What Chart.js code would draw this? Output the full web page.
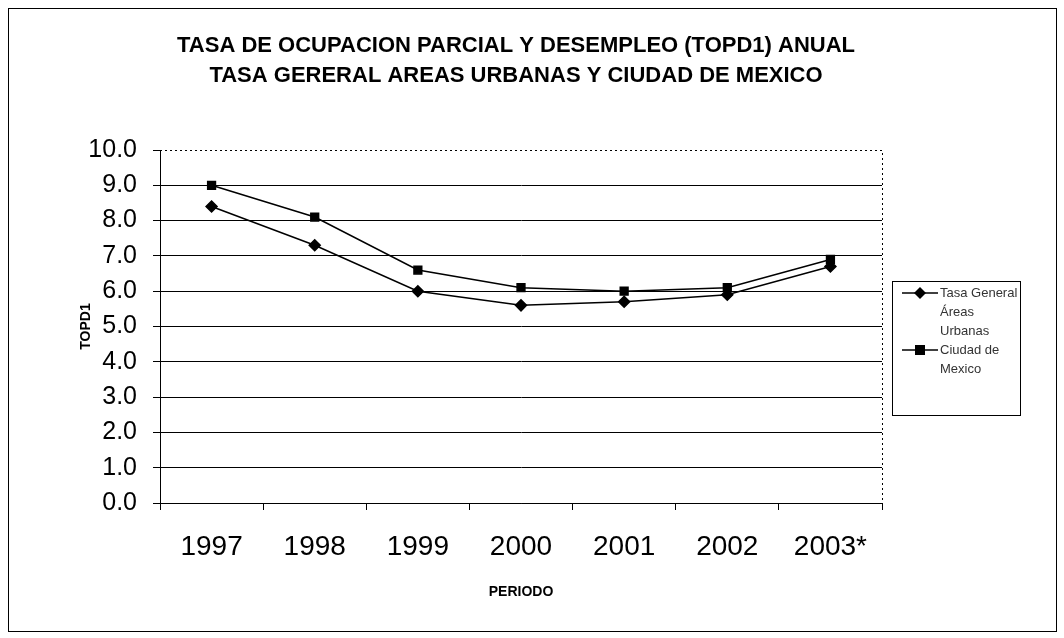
<!DOCTYPE html>
<html>
<head>
<meta charset="utf-8">
<style>
  html, body { margin: 0; padding: 0; background: #fff; }
  #wrap { width: 1064px; height: 638px; }
</style>
<script src="https://cdn.jsdelivr.net/npm/chart.js@4"></script>
</head>
<body>
<div id="wrap"><canvas id="myChart"></canvas></div>
<script>
const periodos = ['1997', '1998', '1999', '2000', '2001', '2002', '2003*'];
const tasaGeneral = [8.4, 7.3, 6.0, 5.6, 5.7, 5.9, 6.7];
const ciudadMexico = [9.0, 8.1, 6.6, 6.1, 6.0, 6.1, 6.9];
const serieNombres = [['Tasa General', 'Áreas', 'Urbanas'], ['Ciudad de', 'Mexico']];
const titulo = ['TASA DE OCUPACION PARCIAL Y DESEMPLEO (TOPD1) ANUAL', 'TASA GERERAL AREAS URBANAS Y CIUDAD DE MEXICO'];

const fuente = 'Arial, "Liberation Sans", sans-serif';
Chart.defaults.font.family = fuente;
Chart.defaults.color = '#000';

// marco exterior, titulo, borde punteado del area y leyenda dibujada a mano
const decoracion = {
    id: 'decoracion',
    beforeDraw(chart) {
        const ctx = chart.ctx;
        ctx.save();
        ctx.fillStyle = '#fff';
        ctx.fillRect(0, 0, chart.width, chart.height);
        ctx.restore();
    },
    afterDraw(chart) {
        const ctx = chart.ctx;
        const a = chart.chartArea;
        ctx.save();
        ctx.strokeStyle = '#000';
        ctx.lineWidth = 1;
        ctx.strokeRect(8.5, 8.5, 1048, 623);

        // titulo
        ctx.fillStyle = '#000';
        ctx.font = 'bold 22px ' + fuente;
        ctx.textAlign = 'center';
        ctx.textBaseline = 'middle';
        ctx.fillText(titulo[0], 516, 46);
        ctx.fillText(titulo[1], 516, 76);
        ctx.textAlign = 'left';

        ctx.setLineDash([2, 3]);
        ctx.beginPath();
        ctx.moveTo(a.left, a.top + 0.5);
        ctx.lineTo(a.right + 0.5, a.top + 0.5);
        ctx.lineTo(a.right + 0.5, a.bottom);
        ctx.stroke();
        ctx.setLineDash([]);

        // leyenda
        ctx.strokeRect(892.5, 281.5, 128, 134);
        ctx.font = '13px ' + fuente;
        let y = 293;
        chart.data.datasets.forEach((ds, i) => {
            ctx.strokeStyle = '#000';
            ctx.lineWidth = 1.5;
            ctx.beginPath();
            ctx.moveTo(902, y);
            ctx.lineTo(938, y);
            ctx.stroke();
            ctx.fillStyle = '#000';
            if (ds.pointStyle === 'rect') {
                ctx.fillRect(915, y - 5, 10, 10);
            } else {
                ctx.beginPath();
                ctx.moveTo(920, y - 6);
                ctx.lineTo(926, y);
                ctx.lineTo(920, y + 6);
                ctx.lineTo(914, y);
                ctx.closePath();
                ctx.fill();
            }
            ctx.fillStyle = '#333';
            serieNombres[i].forEach(t => {
                ctx.fillText(t, 940, y);
                y += 19;
            });
        });
        ctx.restore();
    }
};

new Chart(document.getElementById('myChart'), {
    type: 'line',
    data: {
        labels: periodos,
        datasets: [{
            label: 'Tasa General Áreas Urbanas',
            data: tasaGeneral,
            borderColor: '#000',
            backgroundColor: '#000',
            borderWidth: 1.5,
            pointStyle: 'rectRot',
            pointRadius: 5.5,
            tension: 0
        }, {
            label: 'Ciudad de Mexico',
            data: ciudadMexico,
            borderColor: '#000',
            backgroundColor: '#000',
            borderWidth: 1.5,
            pointStyle: 'rect',
            pointRadius: 5.5,
            tension: 0
        }]
    },
    options: {
        responsive: true,
        maintainAspectRatio: false,
        animation: false,
        layout: { padding: { left: 10, right: 182, top: 150, bottom: 10 } },
        plugins: {
            legend: { display: false },
            tooltip: { enabled: false },
            title: { display: false }
        },
        scales: {
            x: {
                offset: true,
                grid: { offset: true, drawOnChartArea: false, drawTicks: true, tickLength: 7, color: '#000' },
                border: { color: '#000', width: 1 },
                ticks: { font: { size: 28 }, padding: 20, maxRotation: 0 },
                title: { display: true, text: 'PERIODO', font: { size: 14, weight: 'bold' }, padding: { top: 0, bottom: 27 } },
                afterFit(scale) { scale.height = 125; }
            },
            y: {
                min: 0,
                max: 10,
                ticks: {
                    stepSize: 1,
                    font: { size: 25 },
                    padding: 16,
                    callback: v => v.toFixed(1)
                },
                grid: {
                    color: ctx => (ctx.tick && ctx.tick.value === 10) ? 'rgba(0,0,0,0)' : '#000',
                    tickColor: '#000',
                    tickLength: 7,
                    lineWidth: 1
                },
                border: { color: '#000', width: 1 },
                title: { display: true, text: 'TOPD1', font: { size: 14, weight: 'bold' }, padding: { top: 68 } },
                afterFit(scale) { scale.width = 150; }
            }
        }
    },
    plugins: [decoracion]
});
</script>
</body>
</html>
